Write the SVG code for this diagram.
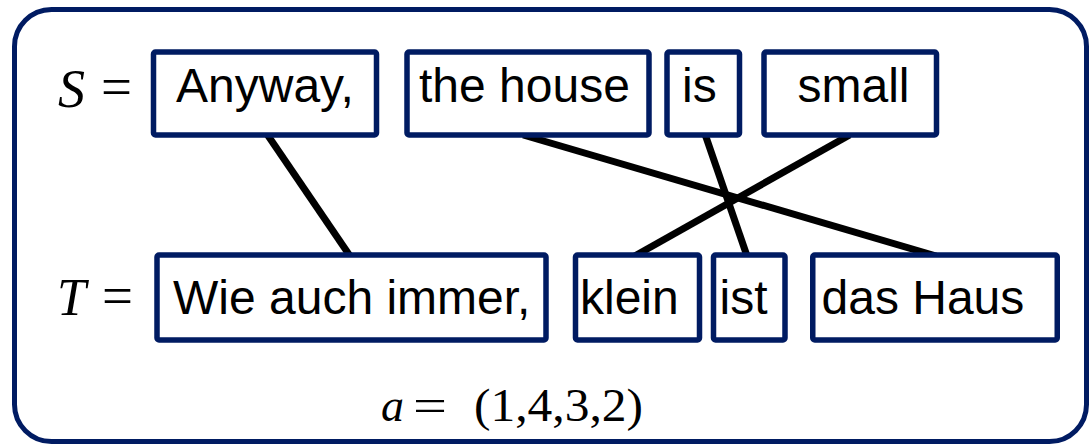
<svg xmlns="http://www.w3.org/2000/svg" width="1089" height="446" viewBox="0 0 1089 446">
  <style>
    .frame { fill: #ffffff; stroke: #001b62; stroke-width: 5; }
    .box { fill: #ffffff; stroke: #001b62; stroke-width: 5.5; }
    .word { font-family: "Liberation Sans", Arial, sans-serif; font-size: 48px; fill: #000000; }
    .math { font-family: "Liberation Serif", "Times New Roman", serif; fill: #000000; }
    .it { font-style: italic; }
    .link { stroke: #000000; stroke-width: 7; fill: none; stroke-linecap: butt; }
  </style>
  <rect id="frame" class="frame" x="14.5" y="9.5" width="1072" height="432" rx="37" ry="37"/>

  <g id="labels">
    <text class="math it" x="58" y="106.5" font-size="54">S</text>
    <text class="math" x="101" y="106" font-size="56" textLength="31" lengthAdjust="spacingAndGlyphs">=</text>
    <text class="math it" x="57" y="315" font-size="52">T</text>
    <text class="math" x="102" y="315" font-size="56" textLength="31" lengthAdjust="spacingAndGlyphs">=</text>
    <text class="math it" x="381" y="421" font-size="46">a</text>
    <text class="math" x="413" y="421" font-size="46" textLength="34" lengthAdjust="spacingAndGlyphs">=</text>
    <text class="math" x="474" y="421" font-size="46" textLength="169" lengthAdjust="spacingAndGlyphs">(1,4,3,2)</text>
  </g>

  <g id="connectors">
    <line class="link" x1="267.6" y1="135" x2="350" y2="256"/>
    <line class="link" x1="523.2" y1="135" x2="936.2" y2="256"/>
    <line class="link" x1="705.3" y1="135" x2="747" y2="256"/>
    <line class="link" x1="849.6" y1="135" x2="634.7" y2="256"/>
  </g>

  <g id="s1">
    <rect class="box" x="153.5" y="52" width="223" height="83" rx="2"/>
    <text class="word" x="176" y="102">Anyway,</text>
  </g>
  <g id="s2">
    <rect class="box" x="407" y="52" width="242" height="83" rx="2"/>
    <text class="word" x="419" y="102">the house</text>
  </g>
  <g id="s3">
    <rect class="box" x="667" y="52" width="72.5" height="83" rx="2"/>
    <text class="word" x="682" y="102">is</text>
  </g>
  <g id="s4">
    <rect class="box" x="764" y="52" width="172.5" height="83" rx="2"/>
    <text class="word" x="797.5" y="102">small</text>
  </g>

  <g id="t1">
    <rect class="box" x="157" y="255" width="389" height="85" rx="2"/>
    <text class="word" x="173" y="314">Wie auch immer,</text>
  </g>
  <g id="t2">
    <rect class="box" x="575.5" y="255" width="124" height="85" rx="2"/>
    <text class="word" x="580" y="314">klein</text>
  </g>
  <g id="t3">
    <rect class="box" x="713.5" y="255" width="71.5" height="85" rx="2"/>
    <text class="word" x="719.5" y="314">ist</text>
  </g>
  <g id="t4">
    <rect class="box" x="812.75" y="255" width="244.5" height="85" rx="2"/>
    <text class="word" x="821.5" y="314">das Haus</text>
  </g>
</svg>
